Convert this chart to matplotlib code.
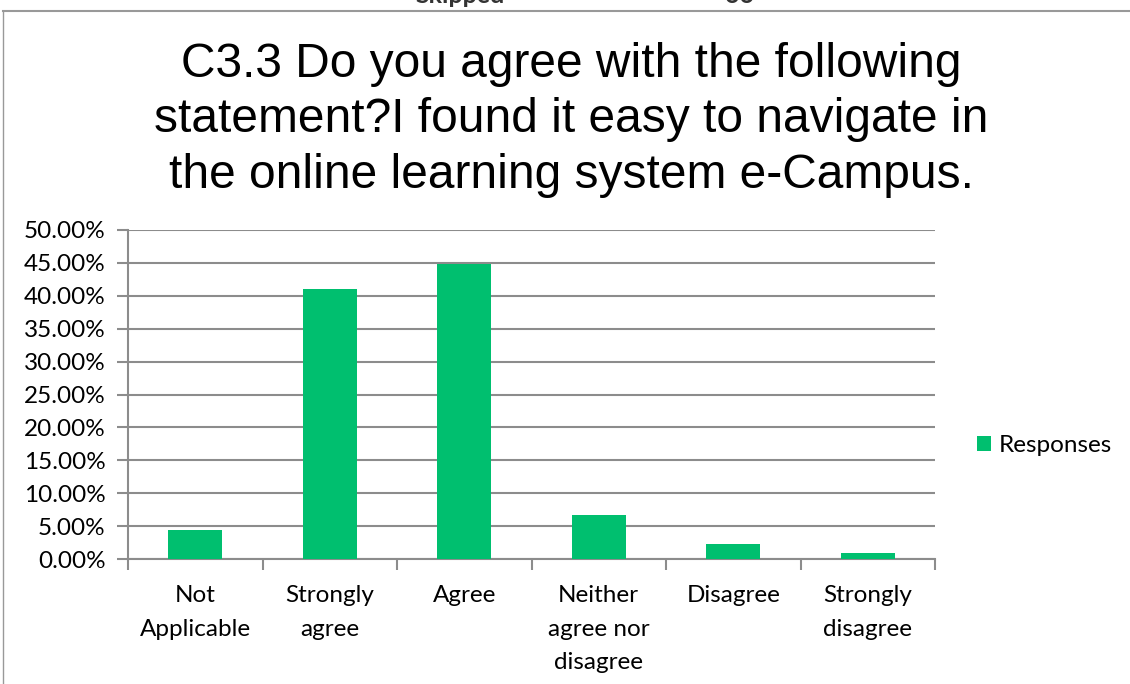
import matplotlib.pyplot as plt
from matplotlib.ticker import FuncFormatter
import numpy as np

categories = ['Not\nApplicable', 'Strongly\nagree', 'Agree', 'Neither\nagree nor\ndisagree', 'Disagree', 'Strongly\ndisagree']
responses = [4.48, 41.04, 44.78, 6.64, 2.24, 0.90]
title = 'C3.3 Do you agree with the following\nstatement?I found it easy to navigate in\nthe online learning system e-Campus.'

green = '#00BF6F'
grid = '#8c8c8c'
fs = 17.5

fig = plt.figure(figsize=(11.3, 6.84), dpi=100)
ax = fig.add_axes([128 / 1130, 1 - 559 / 684, 807 / 1130, 329 / 684])

x = np.arange(len(categories))
ax.bar(x, responses, width=0.4, color=green, label='Responses', zorder=3)

ax.set_xlim(-0.5, len(categories) - 0.5)
ax.set_ylim(0, 50)
ax.set_yticks(np.arange(0, 50.1, 5))
ax.yaxis.set_major_formatter(FuncFormatter(lambda v, p: f'{v:.2f}%'))
ax.grid(axis='y', color=grid, linewidth=1.5, zorder=0)

# category labels in the middle, tick marks on the boundaries
ax.set_xticks(x)
ax.set_xticklabels(categories, fontsize=fs, family='Lato', linespacing=1.73, va='top')
ax.tick_params(axis='x', length=0, pad=19)
ax.set_xticks(np.arange(-0.5, len(categories), 1), minor=True)
ax.tick_params(axis='x', which='minor', length=8, color=grid, width=1.5, direction='out')
ax.tick_params(axis='y', length=8, color=grid, width=1.5, labelsize=fs, pad=8)
for lab in ax.get_yticklabels():
    lab.set_family('Lato')

for s in ['top', 'right']:
    ax.spines[s].set_visible(False)
for s in ['left', 'bottom']:
    ax.spines[s].set_color(grid)
    ax.spines[s].set_linewidth(1.5)

fig.text(571 / 1130, 1 - 120 / 684, title, ha='center', va='center',
         fontsize=34.5, family='Liberation Sans', linespacing=1.30)

ax.legend(loc='center left', bbox_to_anchor=(955 / 807 - 128 / 807, 0.345), frameon=False,
          prop={'family': 'Lato', 'size': fs}, handlelength=0.6, handleheight=0.6,
          handletextpad=0.3)

# frame of the surrounding sheet and the cut-off header row
fig.add_artist(plt.Line2D([3 / 1130, 1], [1 - 11 / 684] * 2, color='#999999', linewidth=1.5))
fig.add_artist(plt.Line2D([3 / 1130] * 2, [0, 1 - 11 / 684], color='#999999', linewidth=1.0))
fig.text(460 / 1130, 1 - 3 / 684, 'Skipped', ha='center', va='baseline', fontsize=18,
         family='Lato', weight='bold', color='#333333')
fig.text(740 / 1130, 1 - 3 / 684, '66', ha='center', va='baseline', fontsize=18,
         family='Lato', weight='bold', color='#333333')

fig.savefig('out.png', dpi=100)
